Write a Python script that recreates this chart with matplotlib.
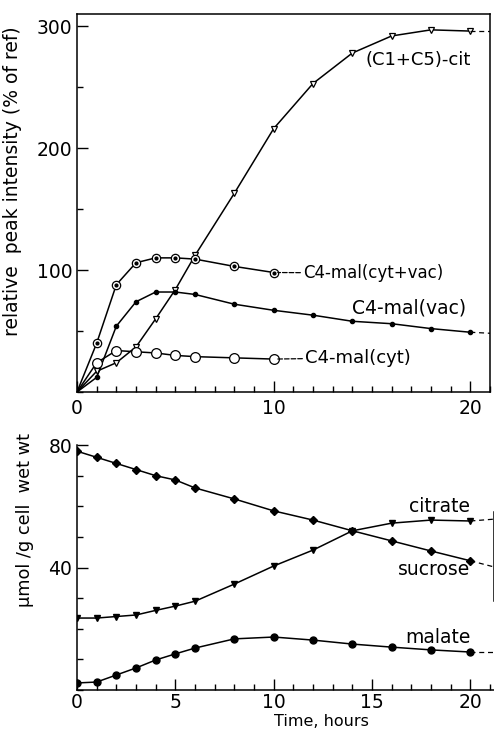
import matplotlib
matplotlib.use("Agg")
import matplotlib.pyplot as plt
from matplotlib.ticker import MultipleLocator

plt.rcParams['font.family'] = ['DejaVu Sans']

# top panel: 13C label intensity, % of reference
t_cit = [0, 1, 2, 3, 4, 5, 6, 8, 10, 12, 14, 16, 18, 20]
cit = [0, 17, 24, 37, 60, 84, 112, 163, 216, 253, 278, 292, 297, 296]
t_vac = [0, 1, 2, 3, 4, 5, 6, 8, 10, 12, 14, 16, 18, 20]
mal_vac = [0, 12, 54, 74, 82, 82, 80, 72, 67, 63, 58, 56, 52, 49]
t_cv = [0, 1, 2, 3, 4, 5, 6, 8, 10]
mal_cytvac = [0, 40, 88, 106, 110, 110, 109, 103, 98]
mal_cyt = [0, 24, 34, 33, 32, 30, 29, 28, 27]
tail_top = {'cit': 296, 'vac': 48}

# bottom panel: umol / g cell wet wt
t_bot = [0, 1, 2, 3, 4, 5, 6, 8, 10, 12, 14, 16, 18, 20]
sucrose = [78, 76, 74, 72, 70, 68.6, 66, 62.4, 58.5, 55.5, 52, 48.7, 45.4, 42.2]
citrate = [23.5, 23.5, 24, 24.5, 26, 27.4, 29, 34.6, 40.5, 45.7, 52, 54.5, 55.5, 55.2]
malate = [2.3, 2.6, 4.9, 7.2, 9.8, 11.8, 13.7, 16.7, 17.3, 16.3, 15, 14, 13.1, 12.4]
tail_bot = {'sucrose': 40.2, 'citrate': 55.8, 'malate': 12.4}

fig = plt.figure(figsize=(4.94, 7.32), dpi=100)
ax1 = fig.add_axes([77/494, 1-392/732, 413/494, 378/732])
ax2 = fig.add_axes([77/494, 1-690/732, 417/494, 248/732])

lw = 1.1
x_end = 21.2
dash = (4, 3)

# --- top panel
ax1.plot(t_cit, cit, '-', color='k', lw=lw, marker='v', ms=4.5, mfc='white', mec='k', mew=0.9, markevery=slice(1, None))
ax1.plot([t_cit[-1], x_end], [cit[-1], tail_top['cit']], '--', color='k', lw=0.9, dashes=dash)
ax1.plot(t_vac, mal_vac, '-', color='k', lw=lw, marker='o', ms=3, mfc='k', mec='k', markevery=slice(1, None))
ax1.plot([t_vac[-1], x_end], [mal_vac[-1], tail_top['vac']], '--', color='k', lw=0.9, dashes=dash)
ax1.plot(t_cv, mal_cytvac, '-', color='k', lw=lw, marker='o', ms=6, mfc='white', mec='k', mew=0.9, markevery=slice(1, None))
ax1.plot(t_cv[1:], mal_cytvac[1:], 'o', color='k', ms=2, ls='none')
ax1.plot(t_cv, mal_cyt, '-', color='k', lw=lw, marker='o', ms=7, mfc='white', mec='k', mew=0.9, markevery=slice(1, None))

ax1.set_xlim(0, 21)
ax1.set_ylim(0, 310)
ax1.set_xticks([0, 10, 20])
ax1.xaxis.set_minor_locator(MultipleLocator(1))
ax1.set_yticks([100, 200, 300])
ax1.yaxis.set_minor_locator(MultipleLocator(50))
ax1.tick_params(direction='in', which='both', labelsize=13.5, width=1)
ax1.tick_params(which='major', length=8)
ax1.tick_params(which='minor', length=4)
ax1.tick_params(axis='x', pad=5)
ax1.set_ylabel('relative  peak intensity (% of ref)', fontsize=13.5)
ax1.yaxis.set_label_coords(-0.133, 0.558)
for s in ax1.spines.values():
    s.set_linewidth(1.1)

fs = 13.5
ax1.text(14.66, 272, '(C1+C5)-cit', fontsize=13, va='center', ha='left')
ax1.annotate('C4-mal(cyt+vac)', xy=(t_cv[-1], mal_cytvac[-1]), xytext=(11.5, 97.5),
             fontsize=12, va='center', ha='left',
             arrowprops=dict(arrowstyle='-', ls='--', lw=0.9, shrinkA=0, shrinkB=3))
ax1.text(14.0, 69, 'C4-mal(vac)', fontsize=fs, va='center', ha='left')
ax1.annotate('C4-mal(cyt)', xy=(t_cv[-1], mal_cyt[-1]), xytext=(11.6, 28),
             fontsize=13, va='center', ha='left',
             arrowprops=dict(arrowstyle='-', ls='--', lw=0.9, shrinkA=0, shrinkB=3))

# --- bottom panel
ax2.plot(t_bot, sucrose, '-', color='k', lw=lw, marker='D', ms=4, mfc='k', mec='k')
ax2.plot(t_bot, citrate, '-', color='k', lw=lw, marker='v', ms=5, mfc='k', mec='k')
ax2.plot(t_bot, malate, '-', color='k', lw=lw, marker='o', ms=5, mfc='k', mec='k')
for name, series in [('sucrose', sucrose), ('citrate', citrate), ('malate', malate)]:
    ax2.plot([t_bot[-1], x_end], [series[-1], tail_bot[name]], '--', color='k', lw=0.9, dashes=dash)

ax2.set_xlim(0, x_end)
ax2.set_ylim(0, 81)
ax2.set_xticks([0, 5, 10, 15, 20])
ax2.xaxis.set_minor_locator(MultipleLocator(1))
ax2.set_yticks([40, 80])
ax2.yaxis.set_minor_locator(MultipleLocator(10))
ax2.tick_params(direction='in', which='both', labelsize=13.5, width=1)
ax2.tick_params(which='major', length=8)
ax2.tick_params(which='minor', length=4)
ax2.tick_params(axis='x', pad=2)
ax2.spines['top'].set_visible(False)
ax2.spines['right'].set_bounds(29, 58)
ax2.spines['left'].set_bounds(0, 80)
for s in ax2.spines.values():
    s.set_linewidth(1.1)
ax2.set_ylabel('\u00b5mol /g cell  wet wt', fontsize=12.8)
ax2.yaxis.set_label_coords(-0.103, 0.685)
ax2.text(10.0, -0.128, 'Time, hours', fontsize=11.5, va='center', ha='left',
         transform=ax2.get_xaxis_transform())

ax2.text(20, 60, 'citrate', fontsize=fs, va='center', ha='right')
ax2.text(20, 39.5, 'sucrose', fontsize=fs, va='center', ha='right')
ax2.text(20, 17, 'malate', fontsize=fs, va='center', ha='right')

fig.savefig('out.png', dpi=100)
